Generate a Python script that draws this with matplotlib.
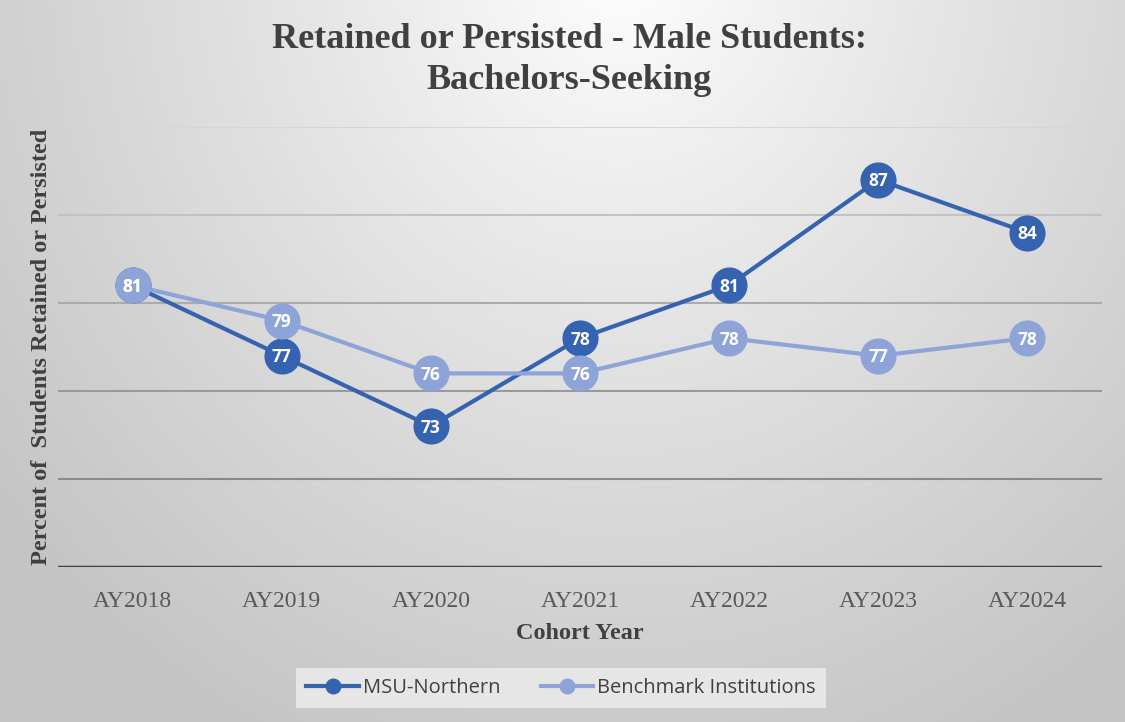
import numpy as np
import matplotlib
matplotlib.use("Agg")
import matplotlib.pyplot as plt

# data
years = ["AY2018", "AY2019", "AY2020", "AY2021", "AY2022", "AY2023", "AY2024"]
msu = [81, 77, 73, 78, 81, 87, 84]
bench = [81, 79, 76, 76, 78, 77, 78]

dark = "#3563B0"
light = "#8EA4D8"

fig = plt.figure(figsize=(11.25, 7.22), dpi=100)

# radial gradient background
bg = fig.add_axes([0, 0, 1, 1], zorder=-10)
W, H = 1125, 722
xx, yy = np.meshgrid(np.arange(W), np.arange(H))
r = np.sqrt(((xx - 620) / 1.0) ** 2 + ((yy + 40) / 1.1) ** 2)
t = np.clip(r / 800.0, 0, 1)
val = 1.0 - 0.23 * t ** 0.9
img = np.dstack([val, val, val])
bg.imshow(img, extent=[0, W, H, 0], aspect="auto")
bg.set_axis_off()

ax = fig.add_axes([58 / W, 155 / H, 1044 / W, 440 / H])
ax.set_facecolor("none")
x = np.arange(len(years))

# gridlines, lighter near the top
grid_vals = [70, 75, 80, 85, 90]
grid_cols = ["#8a8a8a", "#9a9a9a", "#ababab", "#c2c2c2", "#d6d6d6"]
for gv, gc in zip(grid_vals, grid_cols):
    ax.axhline(gv, color=gc, lw=1.5, zorder=1)
ax.axhline(65, color="#404040", lw=2.5, zorder=1)

ax.plot(x, msu, color=dark, lw=3, marker="o", ms=25, zorder=3, label="MSU-Northern")
ax.plot(x, bench, color=light, lw=3, marker="o", ms=25, zorder=4, label="Benchmark Institutions")

for series in (msu, bench):
    for xi, v in zip(x, series):
        ax.text(xi, v - 0.08, str(v), ha="center", va="center", color="white",
                fontsize=12.5, fontweight="bold", family="Open Sans", zorder=6)

ax.set_xlim(-0.5, 6.5)
ax.set_ylim(65, 90)
ax.set_yticks([])
ax.set_xticks(x)
ax.set_xticklabels(years, family="Liberation Serif", fontsize=17, color="#595959")
ax.tick_params(axis="x", length=0, pad=17)
for s in ax.spines.values():
    s.set_visible(False)

ax.set_xlabel("Cohort Year", family="Liberation Serif", fontsize=17.5,
              fontweight="bold", color="#404040", labelpad=8)
ax.set_ylabel("Percent of  Students Retained or Persisted", family="Liberation Serif",
              fontsize=17.5, fontweight="bold", color="#404040", labelpad=4)

fig.text(569 / W, 1 - 60 / H, "Retained or Persisted - Male Students:\nBachelors-Seeking",
         ha="center", va="center", family="Liberation Serif", fontsize=26,
         fontweight="bold", color="#404040", linespacing=1.3)

leg = fig.legend(loc="center", bbox_to_anchor=(561 / W, 1 - 688 / H), ncol=2,
                 frameon=True, fancybox=False, prop={"family": "Open Sans", "size": 14.5},
                 markerscale=0.42, handlelength=2.6, columnspacing=2.0,
                 handletextpad=0.2, borderpad=0.5, borderaxespad=0)
leg.get_frame().set_facecolor("#e6e6e6")
leg.get_frame().set_edgecolor("none")
leg.get_frame().set_alpha(1)
for txt in leg.get_texts():
    txt.set_color("#404040")

fig.savefig("out.png", dpi=100)
